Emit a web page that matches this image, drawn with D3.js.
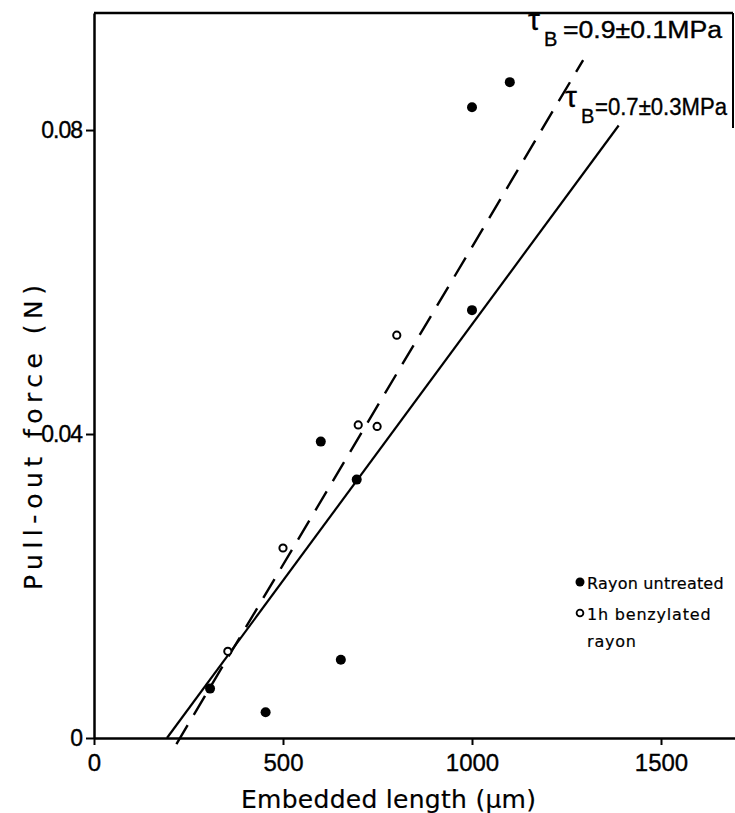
<!DOCTYPE html>
<html lang="en">
<head>
<meta charset="UTF-8">
<title>Pull-out force vs embedded length</title>
<script src="https://cdn.jsdelivr.net/npm/d3@7"></script>
<style>
  body { margin: 0; background: #fff; }
  svg { display: block; }
  text { font-family: "Liberation Sans", Arial, sans-serif; fill: #000; stroke: #000; stroke-width: 0.35px; }
  .title, .legend { font-family: "DejaVu Sans", sans-serif; stroke-width: 0.2px; }
</style>
</head>
<body>
<script>
// values
const untreatedLen = [307, 454, 600, 653, 695, 1000, 1000, 1100];
const untreatedForce = [0.0065, 0.0034, 0.039, 0.0103, 0.034, 0.0563, 0.083, 0.0863];
const benzylLen = [354, 500, 699, 749, 801];
const benzylForce = [0.0114, 0.025, 0.0412, 0.041, 0.053];

// fitted lines (end points)
const solidFit = [[193, 0], [1388, 0.0806]];
const dashedFit = [[218, -0.0008], [1294, 0.0892]];

const xTicks = [0, 500, 1000, 1500];
const yTicks = [0, 0.04, 0.08];
const yTickLabels = ["0", "0.04", "0.08"];

const w = 735, h = 813;
const svg = d3.select("body").append("svg").attr("width", w).attr("height", h);

const x = d3.scaleLinear().domain([0, 1700]).range([94, 736.6]);
const y = d3.scaleLinear().domain([0, 0.0954]).range([738, 13]);

// frame: top line and short right edge
svg.append("line").attr("x1", x(0)).attr("x2", 733).attr("y1", y(0.0954)).attr("y2", y(0.0954))
  .attr("stroke", "#000").attr("stroke-width", 2.5);
svg.append("line").attr("x1", 733).attr("x2", 733).attr("y1", y(0.0954)).attr("y2", 128)
  .attr("stroke", "#000").attr("stroke-width", 2);

// axes
const xAxis = d3.axisBottom(x).tickValues(xTicks).tickSize(7).tickSizeOuter(0).tickFormat(d3.format("d"));
const gx = svg.append("g").attr("transform", "translate(0," + y(0) + ")").call(xAxis);
gx.select(".domain").attr("stroke-width", 2.5);
gx.selectAll(".tick line").attr("stroke-width", 2);
gx.selectAll(".tick text").attr("font-size", 24).attr("dy", "0.95em")
  .style("font-family", "'Liberation Sans', Arial, sans-serif");

const yAxis = d3.axisLeft(y).tickValues(yTicks).tickSize(8).tickSizeOuter(0)
  .tickFormat((d, i) => yTickLabels[i]);
const gy = svg.append("g").attr("transform", "translate(" + x(0) + ",0)").call(yAxis);
gy.select(".domain").attr("stroke-width", 2.5);
gy.selectAll(".tick line").attr("stroke-width", 2);
gy.selectAll(".tick text").attr("font-size", 23).attr("x", -12).attr("letter-spacing", -1)
  .style("font-family", "'Liberation Sans', Arial, sans-serif");

// axis titles
svg.append("text").attr("class", "title").attr("x", 241).attr("y", 808)
  .attr("font-size", 25).attr("textLength", 295).attr("lengthAdjust", "spacing")
  .text("Embedded length (µm)");
svg.append("text").attr("class", "title").attr("transform", "translate(42,590) rotate(-90)")
  .attr("font-size", 25).attr("textLength", 305).attr("lengthAdjust", "spacing")
  .text("Pull-out force (N)");

// fitted lines
const line = d3.line().x(d => x(d[0])).y(d => y(d[1]));
svg.append("path").datum(solidFit).attr("d", line)
  .attr("fill", "none").attr("stroke", "#000").attr("stroke-width", 2.2);
svg.append("path").datum(dashedFit).attr("d", line)
  .attr("fill", "none").attr("stroke", "#000").attr("stroke-width", 2.4)
  .attr("stroke-dasharray", "22,12");

// points
const untreated = untreatedLen.map((d, i) => [d, untreatedForce[i]]);
const benzyl = benzylLen.map((d, i) => [d, benzylForce[i]]);

svg.selectAll(".untreated").data(untreated).enter().append("circle")
  .attr("class", "untreated")
  .attr("cx", d => x(d[0])).attr("cy", d => y(d[1])).attr("r", 5).attr("fill", "#000");
svg.selectAll(".benzyl").data(benzyl).enter().append("circle")
  .attr("class", "benzyl")
  .attr("cx", d => x(d[0])).attr("cy", d => y(d[1])).attr("r", 3.6)
  .attr("fill", "#fff").attr("stroke", "#000").attr("stroke-width", 2);

// line annotations
function tauLabel(tx, base, restDx, rest, restLen) {
  svg.append("text").attr("x", tx).attr("y", base).attr("font-size", 30).text("τ");
  svg.append("text").attr("x", tx + 16).attr("y", base + 16).attr("font-size", 20).text("B");
  svg.append("text").attr("x", tx + restDx).attr("y", base + 8).attr("font-size", 23)
    .attr("textLength", restLen).attr("lengthAdjust", "spacingAndGlyphs").text(rest);
}
tauLabel(528, 30, 35, "=0.9±0.1MPa", 159);
tauLabel(565, 107, 30, "=0.7±0.3MPa", 132);

// legend
svg.append("circle").attr("cx", 580).attr("cy", 582).attr("r", 4.5).attr("fill", "#000");
svg.append("text").attr("class", "legend").attr("x", 587).attr("y", 589).attr("font-size", 16)
  .attr("letter-spacing", 0.2).text("Rayon untreated");
svg.append("circle").attr("cx", 580).attr("cy", 613).attr("r", 3.4)
  .attr("fill", "#fff").attr("stroke", "#000").attr("stroke-width", 1.8);
svg.append("text").attr("class", "legend").attr("x", 587).attr("y", 620).attr("font-size", 16)
  .attr("letter-spacing", 0.8).text("1h benzylated");
svg.append("text").attr("class", "legend").attr("x", 587).attr("y", 647).attr("font-size", 16)
  .attr("letter-spacing", 0.8).text("rayon");
</script>
</body>
</html>
